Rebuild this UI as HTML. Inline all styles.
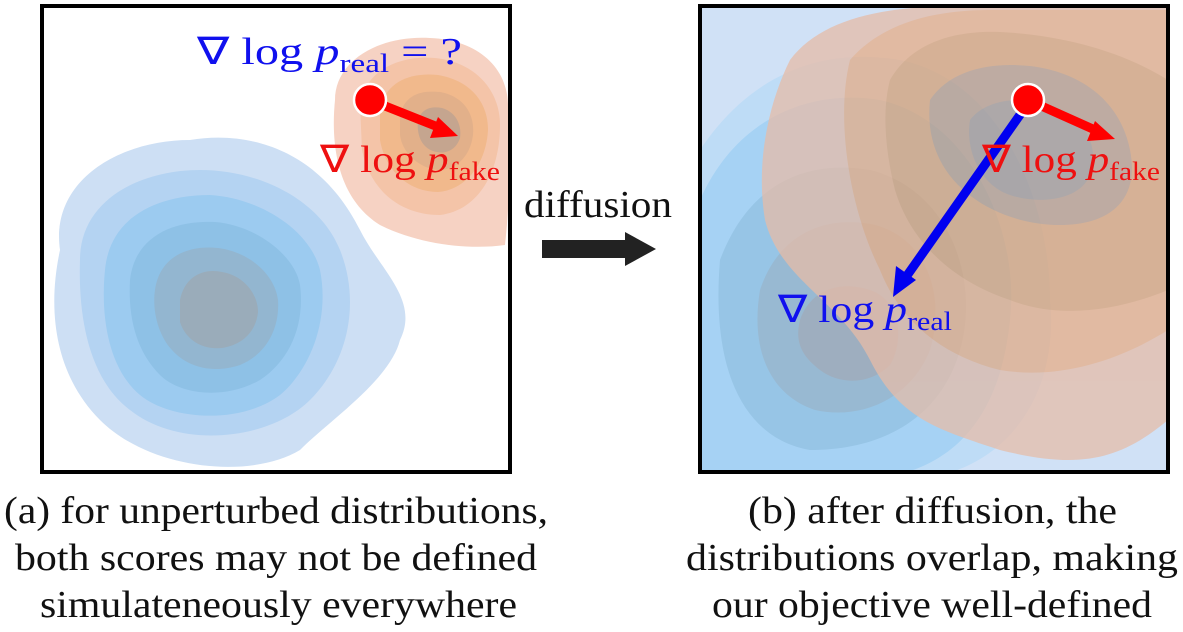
<!DOCTYPE html>
<html><head><meta charset="utf-8"><style>
html,body{margin:0;padding:0;background:#fff;}
svg, svg text{font-family:"Liberation Serif",serif;}
svg{display:block;}
</style></head><body>
<svg width="1183" height="632" viewBox="0 0 1183 632">
<defs>
<clipPath id="cl"><rect x="42" y="6" width="468" height="466"/></clipPath>
<clipPath id="cr"><rect x="700" y="6" width="468" height="466"/></clipPath>
</defs>
<g>
<rect x="42" y="6" width="468" height="466" fill="#fff"/>
<g clip-path="url(#cl)">
<path d="M60,250 C50,180 120,140 190,140 C250,130 320,150 360,230 C380,270 420,300 400,340 C390,380 330,420 300,450 C250,480 150,470 100,420 C60,380 45,320 60,250Z" fill="#cddff4"/>
<path d="M80,260 C80,200 140,170 200,170 C260,170 320,200 340,250 C360,300 350,360 310,400 C270,440 180,450 130,410 C90,380 78,320 80,260Z" fill="#b4d3f2"/>
<path d="M105,270 C110,215 160,195 210,195 C260,198 310,230 320,270 C330,320 310,370 280,395 C240,425 170,420 140,395 C110,370 100,320 105,270Z" fill="#9ccbf0"/>
<path d="M130,280 C135,235 175,220 215,222 C255,225 295,255 300,285 C305,325 290,360 260,380 C225,400 180,395 160,375 C135,350 128,315 130,280Z" fill="#8ec1e6"/>
<path d="M155,290 C160,255 190,245 218,248 C250,252 275,275 278,300 C280,330 265,355 240,365 C210,375 185,365 172,350 C158,335 152,310 155,290Z" fill="#93b6d0"/>
<path d="M180,300 C185,275 205,268 222,272 C245,276 258,295 258,312 C256,332 242,345 222,348 C200,350 185,338 180,322Z" fill="#9aacba"/>
</g>
<g clip-path="url(#cl)">
<path d="M335,100 C335,60 380,35 430,38 C480,40 510,70 508,110 C510,160 510,200 505,245 C470,250 420,245 380,225 C340,200 330,150 335,100Z" fill="#f6d2c3"/>
<path d="M360,105 C365,70 400,55 435,58 C475,62 500,90 500,125 C500,170 480,210 440,215 C400,215 370,190 362,150Z" fill="#f4c4a8"/>
<path d="M380,110 C385,82 410,72 438,75 C468,80 488,100 488,130 C486,165 465,190 438,192 C408,192 385,170 380,140Z" fill="#f1b98c"/>
<path d="M400,115 C405,95 420,90 440,92 C462,96 475,112 473,135 C470,158 455,170 438,170 C418,168 402,152 400,135Z" fill="#e2b08a"/>
<path d="M418,120 C422,108 432,106 442,108 C456,112 462,125 460,138 C456,150 446,154 437,152 C424,150 416,138 418,120Z" fill="#c5a58f"/>
</g>
<rect x="42" y="6" width="468" height="466" fill="none" stroke="#000" stroke-width="4"/>
<text x="197" y="64" font-size="38" fill="#1010ee" textLength="265" lengthAdjust="spacingAndGlyphs">∇ log <tspan font-style="italic">p</tspan><tspan font-size="26" dy="8">real</tspan><tspan dy="-8"> = ?</tspan></text>
<line x1="370" y1="100" x2="438" y2="127" stroke="#f00" stroke-width="9"/>
<polygon points="458,136 430,138 438,117" fill="#f00"/>
<circle cx="370" cy="100" r="16" fill="#f00" stroke="#fff" stroke-width="2.5"/>
<text x="320" y="172" font-size="38" fill="#ee1010" textLength="180" lengthAdjust="spacingAndGlyphs">∇ log <tspan font-style="italic">p</tspan><tspan font-size="26" dy="8">fake</tspan></text>
</g>
<text x="598" y="217" font-size="38" text-anchor="middle" fill="#111" textLength="148" lengthAdjust="spacingAndGlyphs">diffusion</text>
<g>
<rect x="542" y="240" width="85" height="18" fill="#222"/>
<polygon points="625,232 656,249 625,266" fill="#222"/>
</g>
<g>
<g clip-path="url(#cr)">
<rect x="700" y="6" width="468" height="466" fill="#d0e1f6"/>
<path d="M700,150 C760,60 840,50 900,60 C1000,80 1050,200 1050,300 C1060,400 1000,480 900,480 L700,480Z" fill="#bedcf6"/>
<path d="M700,200 C740,110 820,90 880,100 C970,120 1020,230 1010,320 C1000,420 950,480 850,480 L700,480Z" fill="#a6d2f4"/>
<path d="M720,260 C750,180 810,160 870,170 C950,190 980,280 960,350 C940,420 880,450 810,450 C750,440 710,380 720,260Z" fill="#97c5e6"/>
<path d="M760,290 C780,230 830,215 875,225 C930,240 945,300 930,350 C910,400 860,420 815,410 C770,395 750,350 760,290Z" fill="#98b9d2"/>
<path d="M800,320 C810,290 840,280 870,290 C900,300 905,340 890,365 C870,385 840,385 820,370 C800,355 795,340 800,320Z" fill="#9eaebf"/>
<g opacity="0.75">
<path d="M790,60 C820,20 880,6 960,6 L1168,6 L1168,420 C1120,460 1080,470 1000,450 C940,430 900,420 870,360 C840,300 780,280 765,220 C755,160 770,100 790,60Z" fill="#e6bca8"/>
<path d="M850,60 C880,25 930,10 990,10 L1168,10 L1168,330 C1120,360 1060,380 1000,370 C940,355 900,320 880,270 C850,210 835,120 850,60Z" fill="#e7ad86"/>
<path d="M890,80 C910,45 950,30 1000,32 C1060,35 1120,50 1168,80 L1168,290 C1120,310 1060,320 1010,300 C950,280 910,240 895,190 C885,150 882,110 890,80Z" fill="#d9a277"/>
<path d="M930,100 C950,70 990,62 1030,66 C1080,72 1120,100 1130,150 C1140,200 1110,225 1060,225 C1010,225 960,200 940,160 C930,140 928,120 930,100Z" fill="#b89a86"/>
<path d="M970,120 C985,100 1020,95 1050,105 C1085,118 1100,145 1090,175 C1080,200 1040,205 1010,195 C980,185 965,150 970,120Z" fill="#a29590"/>
</g>
</g>
<rect x="700" y="6" width="468" height="466" fill="none" stroke="#000" stroke-width="4"/>
<line x1="1022" y1="112" x2="906" y2="277" stroke="#0000f0" stroke-width="9"/>
<polygon points="893,297 896,266 916,280" fill="#0000f0"/>
<line x1="1028" y1="100" x2="1095" y2="130" stroke="#f00" stroke-width="9"/>
<polygon points="1115,139 1087,141 1095,121" fill="#f00"/>
<circle cx="1028" cy="100" r="16" fill="#f00" stroke="#fff" stroke-width="2.5"/>
<text x="982" y="172" font-size="38" fill="#ee1010" textLength="178" lengthAdjust="spacingAndGlyphs">∇ log <tspan font-style="italic">p</tspan><tspan font-size="26" dy="8">fake</tspan></text>
<text x="778" y="322" font-size="38" fill="#1010ee" textLength="174" lengthAdjust="spacingAndGlyphs">∇ log <tspan font-style="italic">p</tspan><tspan font-size="26" dy="8">real</tspan></text>
</g>
<g font-size="38" fill="#111">
<text x="4" y="523" textLength="544" lengthAdjust="spacingAndGlyphs">(a) for unperturbed distributions,</text>
<text x="15" y="570" textLength="522" lengthAdjust="spacingAndGlyphs">both scores may not be defined</text>
<text x="40" y="617" textLength="477" lengthAdjust="spacingAndGlyphs">simulateneously everywhere</text>
</g>
<g font-size="38" fill="#111">
<text x="748" y="523" textLength="369" lengthAdjust="spacingAndGlyphs">(b) after diffusion, the</text>
<text x="686" y="570" textLength="492" lengthAdjust="spacingAndGlyphs">distributions overlap, making</text>
<text x="712" y="617" textLength="440" lengthAdjust="spacingAndGlyphs">our objective well-defined</text>
</g>
</svg>
</body></html>
